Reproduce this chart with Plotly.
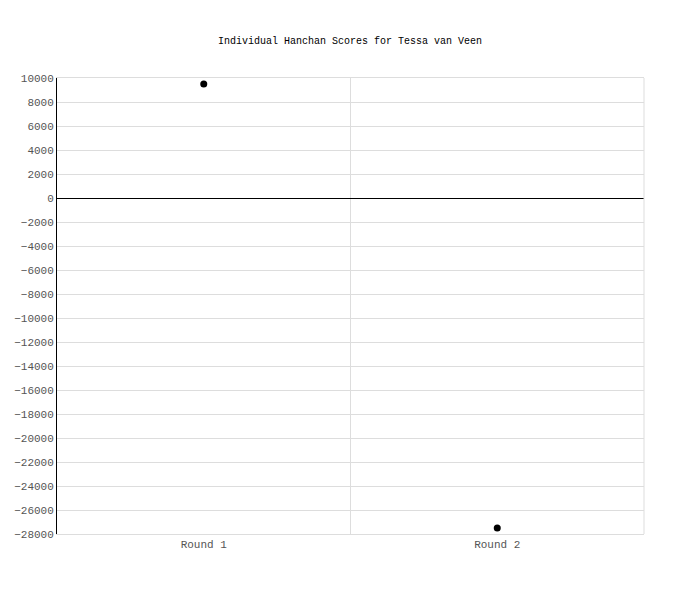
import plotly.graph_objects as go

rounds = ['Round 1', 'Round 2']
scores = [9500, -27500]
y_ticks = list(range(-28000, 10001, 2000))

fig = go.Figure()

fig.add_trace(go.Scatter(
    x=rounds, y=scores,
    mode='markers',
    marker=dict(color='black', size=7),
    showlegend=False
))

# page adds an 8px offset, so margins are shifted to compensate
fig.update_layout(
    width=700, height=600,
    paper_bgcolor='white', plot_bgcolor='white',
    margin=dict(l=49, r=64, t=70, b=74),
    font=dict(family='Liberation Mono, DejaVu Sans Mono, monospace', size=11, color='#555555'),
    title=dict(text='Individual Hanchan Scores for Tessa van Veen',
               x=(350 - 8) / 700, xanchor='center', y=1 - 32 / 600, yanchor='middle',
               font=dict(size=10, color='black')),
)

fig.update_xaxes(
    type='category', range=[-0.5, 1.5],
    tickson='boundaries', showgrid=True, gridcolor='#dddddd',
    ticks='', showline=True, linecolor='#dddddd', mirror=True,
    zeroline=False, automargin=False
)

fig.update_yaxes(
    range=[-28000, 10000], tickvals=y_ticks, tickformat='d',
    showgrid=True, gridcolor='#dddddd',
    zeroline=True, zerolinecolor='black', zerolinewidth=1,
    showline=True, linecolor='black', linewidth=1,
    ticks='', ticklen=0, automargin=False
)
fig.add_shape(type='line', xref='paper', yref='paper', x0=1, x1=1, y0=0, y1=1,
              line=dict(color='#dddddd', width=1))

fig.write_html('out.html')
